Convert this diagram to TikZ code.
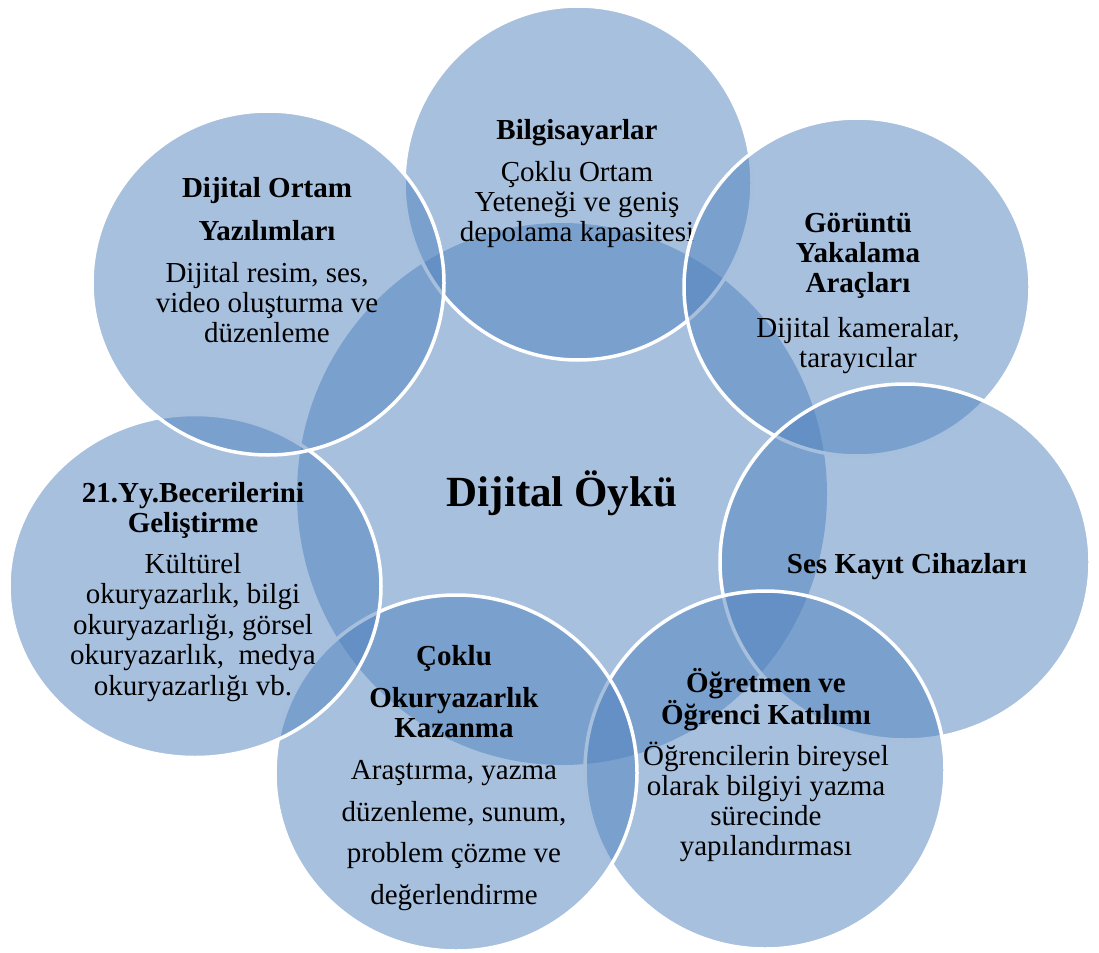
\documentclass[tikz,border=0pt]{standalone}
\usepackage{fontspec}
\setmainfont{Liberation Serif}
\usetikzlibrary{shapes.geometric}
\definecolor{myblue}{HTML}{4F81BD}
\tikzset{
  bubble/.style={ellipse, inner sep=0, fill=myblue, fill opacity=0.5, draw=white, line width=3.5pt},
  head/.style={font=\fontsize{29}{30}\selectfont\bfseries, align=center, anchor=base, inner sep=0},
  body/.style={font=\fontsize{29}{30}\selectfont, align=center, anchor=base, inner sep=0}
}

\begin{document}
\begin{tikzpicture}[x=1pt, y=-1pt]
    \useasboundingbox (0, 0) rectangle (1099, 952);
    % middle (text nodes sit on the baseline of their last line)
    \node[bubble, draw=none, minimum width=530, minimum height=542] (mid) at (562, 494) {};
    \node[head, font=\fontsize{43}{44}\selectfont\bfseries] (midT) at (562, 506) {Dijital Öykü};
    % outer ring, clockwise from the top
    \node[bubble, minimum width=348, minimum height=354] (pc) at (578, 183) {};
    \node[head] (pcT) at (577, 140) {Bilgisayarlar};
    \node[body] (pcB) at (577, 241) {Çoklu Ortam\\Yeteneği ve geniş\\depolama kapasitesi};
    \node[bubble, minimum width=346, minimum height=338] (cam) at (857, 287) {};
    \node[head] (camT) at (858, 292) {Görüntü\\Yakalama\\Araçları};
    \node[body] (camB) at (858, 367) {Dijital kameralar,\\tarayıcılar};
    \node[bubble, minimum width=370, minimum height=356] (rec) at (905, 562) {};
    \node[head] (recT) at (907, 573) {Ses Kayıt Cihazları};
    \node[bubble, minimum width=360, minimum height=358] (tea) at (765, 770) {};
    \node[head] (teaT) at (766, 724) {Öğretmen ve\\Öğrenci Katılımı};
    \node[body] (teaB) at (766, 855) {Öğrencilerin bireysel\\olarak bilgiyi yazma\\sürecinde\\yapılandırması};
    \node[bubble, minimum width=362, minimum height=356] (lit) at (456, 773) {};
    \node[head, font=\fontsize{29}{42}\selectfont\bfseries] (litT) at (454, 737) {Çoklu\\Okuryazarlık\\[-12pt]Kazanma};
    \node[body, font=\fontsize{29}{41.5}\selectfont] (litB) at (454, 904) {Araştırma, yazma\\düzenleme, sunum,\\problem çözme ve\\değerlendirme};
    \node[bubble, minimum width=372, minimum height=343] (sk) at (195, 586) {};
    \node[head] (skT) at (193, 532) {21.Yy.Becerilerini\\Geliştirme};
    \node[body, font=\fontsize{29}{30.5}\selectfont] (skB) at (193, 695) {Kültürel\\okuryazarlık, bilgi\\okuryazarlığı, görsel\\okuryazarlık,\ \ medya\\okuryazarlığı vb.};
    \node[bubble, minimum width=352, minimum height=344] (sw) at (268, 283) {};
    \node[head, font=\fontsize{29}{43}\selectfont\bfseries] (swT) at (267, 240) {Dijital Ortam\\Yazılımları};
    \node[body] (swB) at (267, 342) {Dijital resim, ses,\\video oluşturma ve\\düzenleme};
\end{tikzpicture}
\end{document}
